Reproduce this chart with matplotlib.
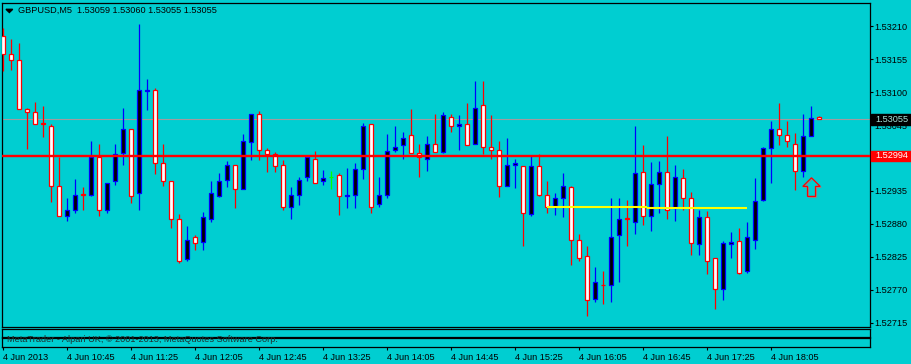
import matplotlib
matplotlib.use("Agg")
import matplotlib.pyplot as plt
from matplotlib.patches import Rectangle, Polygon

# GBPUSD M5, bars from 4 Jun 2013 10:05
opens = [1.53193, 1.53163, 1.53153, 1.53071, 1.53066, 1.53049, 1.53043, 1.52944, 1.52894, 1.52904,
         1.52930, 1.52929, 1.52992, 1.52904, 1.52951, 1.52998, 1.53038, 1.52931, 1.53102, 1.53104,
         1.52981, 1.52951, 1.52888, 1.52821, 1.52858, 1.52850, 1.52889, 1.52927, 1.52953, 1.52978,
         1.52938, 1.53016, 1.53063, 1.53003, 1.52996, 1.52978, 1.52908, 1.52928, 1.52958, 1.52988,
         1.52951, 1.52958, 1.52961, 1.52926, 1.52928, 1.52971, 1.53046, 1.52914, 1.52929, 1.53004,
         1.53011, 1.53029, 1.52998, 1.52989, 1.53013, 1.53000, 1.53059, 1.53043, 1.53046, 1.53014,
         1.53078, 1.53008, 1.53004, 1.52944, 1.52979, 1.52976, 1.52896, 1.52976, 1.52928, 1.52908,
         1.52924, 1.52941, 1.52854, 1.52826, 1.52755, 1.52779, 1.52778, 1.52861, 1.52890, 1.52883,
         1.52966, 1.52893, 1.52946, 1.52966, 1.52906, 1.52956, 1.52923, 1.52846, 1.52891, 1.52824,
         1.52771, 1.52846, 1.52851, 1.52801, 1.52854, 1.52920, 1.53006, 1.53038, 1.53028, 1.53014,
         1.52968, 1.53026, 1.53059]
highs = [1.53206, 1.53189, 1.53181, 1.53073, 1.53083, 1.53077, 1.53046, 1.52992, 1.52923, 1.52955,
         1.52942, 1.53018, 1.53014, 1.52949, 1.53014, 1.53073, 1.53038, 1.53213, 1.53122, 1.53106,
         1.53013, 1.52951, 1.52897, 1.52877, 1.52861, 1.52900, 1.52951, 1.52965, 1.52985, 1.52978,
         1.53030, 1.53063, 1.53068, 1.53007, 1.53000, 1.52986, 1.52942, 1.52958, 1.52992, 1.53001,
         1.52970, 1.52968, 1.52965, 1.52974, 1.52981, 1.53048, 1.53046, 1.52958, 1.53030, 1.53044,
         1.53033, 1.53071, 1.53013, 1.53026, 1.53063, 1.53066, 1.53063, 1.53061, 1.53081, 1.53118,
         1.53119, 1.53061, 1.53018, 1.53024, 1.52988, 1.52976, 1.52994, 1.52996, 1.52951, 1.52931,
         1.52965, 1.52944, 1.52864, 1.52843, 1.52808, 1.52801, 1.52923, 1.52923, 1.52920, 1.53043,
         1.53011, 1.52983, 1.52985, 1.53026, 1.52979, 1.52971, 1.52934, 1.52904, 1.52901, 1.52824,
         1.52851, 1.52866, 1.52873, 1.52884, 1.52956, 1.53009, 1.53051, 1.53081, 1.53051, 1.53031,
         1.53063, 1.53076, 1.53060]
lows = [1.53135, 1.53137, 1.53071, 1.53005, 1.53046, 1.53025, 1.52917, 1.52894, 1.52885, 1.52898,
        1.52903, 1.52927, 1.52894, 1.52898, 1.52945, 1.52979, 1.52915, 1.52904, 1.53070, 1.52964,
        1.52944, 1.52874, 1.52815, 1.52819, 1.52836, 1.52837, 1.52884, 1.52925, 1.52942, 1.52907,
        1.52938, 1.52986, 1.52986, 1.52967, 1.52967, 1.52904, 1.52889, 1.52912, 1.52952, 1.52949,
        1.52945, 1.52938, 1.52895, 1.52907, 1.52907, 1.52955, 1.52899, 1.52909, 1.52924, 1.53000,
        1.52989, 1.52998, 1.52959, 1.52969, 1.53000, 1.52998, 1.53033, 1.53004, 1.53011, 1.53014,
        1.52996, 1.52989, 1.52925, 1.52944, 1.52940, 1.52844, 1.52894, 1.52927, 1.52898, 1.52895,
        1.52891, 1.52812, 1.52819, 1.52726, 1.52750, 1.52746, 1.52750, 1.52783, 1.52844, 1.52864,
        1.52879, 1.52869, 1.52898, 1.52889, 1.52885, 1.52904, 1.52829, 1.52828, 1.52796, 1.52738,
        1.52753, 1.52823, 1.52796, 1.52798, 1.52839, 1.52918, 1.52948, 1.53011, 1.53009, 1.52936,
        1.52958, 1.53026, 1.53055]
closes = [1.53164, 1.53153, 1.53071, 1.53066, 1.53046, 1.53046, 1.52944, 1.52894, 1.52904, 1.52929,
          1.52928, 1.52992, 1.52903, 1.52949, 1.52996, 1.53038, 1.52926, 1.53103, 1.53104, 1.52981,
          1.52951, 1.52888, 1.52818, 1.52854, 1.52849, 1.52891, 1.52931, 1.52951, 1.52979, 1.52938,
          1.53019, 1.53063, 1.53004, 1.52996, 1.52976, 1.52908, 1.52928, 1.52954, 1.52991, 1.52949,
          1.52956, 1.52958, 1.52926, 1.52929, 1.52971, 1.53043, 1.52909, 1.52929, 1.53001, 1.53009,
          1.53024, 1.52998, 1.52991, 1.53014, 1.53000, 1.53061, 1.53043, 1.53046, 1.53011, 1.53074,
          1.53009, 1.53004, 1.52944, 1.52979, 1.52981, 1.52898, 1.52976, 1.52929, 1.52909, 1.52924,
          1.52943, 1.52854, 1.52824, 1.52753, 1.52783, 1.52778, 1.52859, 1.52888, 1.52888, 1.52965,
          1.52893, 1.52946, 1.52966, 1.52904, 1.52958, 1.52923, 1.52848, 1.52891, 1.52819, 1.52771,
          1.52848, 1.52850, 1.52798, 1.52858, 1.52918, 1.53006, 1.53038, 1.53028, 1.53019, 1.52968,
          1.53026, 1.53056, 1.53055]

price_ticks = [1.52715, 1.52770, 1.52825, 1.52880, 1.52935, 1.52990, 1.53045, 1.53100, 1.53155, 1.53210]
time_tick_bars = [0, 8, 16, 24, 32, 40, 48, 56, 64, 72, 80, 88, 96]
time_tick_labels = ["4 Jun 2013", "4 Jun 10:45", "4 Jun 11:25", "4 Jun 12:05", "4 Jun 12:45",
                    "4 Jun 13:25", "4 Jun 14:05", "4 Jun 14:45", "4 Jun 15:25", "4 Jun 16:05",
                    "4 Jun 16:45", "4 Jun 17:25", "4 Jun 18:05"]

hline_price = 1.52994
bid_price = 1.53055
yellow_x0 = [67.9, 80.5]
yellow_x1 = [80.5, 93.0]
yellow_p = [1.52909, 1.52907]
arrow_bar = 101
arrow_price = 1.52957

BG = "#00CED1"
W, H = 912, 364

plt.rcParams["font.family"] = ["Liberation Sans", "DejaVu Sans"]
plt.rcParams["font.size"] = 6.6


def fx(px):
    return px / W


def fy(py):
    return 1 - py / H


fig = plt.figure(figsize=(W / 100, H / 100), dpi=100, facecolor=BG)

# main chart window
ax = fig.add_axes([fx(2), fy(327.3), (870 - 2) / W, (327.3 - 2.5) / H])
ax.set_facecolor(BG)
ax.set_xlim(-0.1875, 108.3125)
ax.set_ylim(1.527078, 1.532492)
for s in ax.spines.values():
    s.set_linewidth(0.9)
    s.set_color("black")
ax.set_xticks([])
ax.yaxis.tick_right()
ax.set_yticks(price_ticks)
ax.set_yticklabels([f"{p:.5f}" for p in price_ticks])
ax.tick_params(axis="y", direction="out", length=1.8, width=0.8, pad=1.5, colors="black")

# candles
bw = 0.5
for i, (o, h, l, c) in enumerate(zip(opens, highs, lows, closes)):
    if c > o:
        edge, face = "#0000FF", "black"
    elif c < o:
        edge, face = "#FF0000", "white"
    else:
        edge, face = "#00FF00", None
    ax.vlines(i, l, h, color=edge, lw=0.9, zorder=3)
    if face is None:
        ax.hlines(o, i - bw / 2, i + bw / 2, color=edge, lw=0.9, zorder=4)
    else:
        lo, hi = min(o, c), max(o, c)
        ax.add_patch(Rectangle((i - bw / 2, lo), bw, hi - lo, facecolor=face,
                               edgecolor=edge, lw=0.9, zorder=4))

# horizontal lines
ax.axhline(bid_price, color="#a39a9e", lw=0.8, zorder=2)
ax.axhline(hline_price, color="#FF0000", lw=1.7, zorder=5)
for x0, x1, p in zip(yellow_x0, yellow_x1, yellow_p):
    ax.hlines(p, x0, x1, color="#FFFF00", lw=1.5, zorder=5)

# up arrow (pixel offsets from tip)
shape = [(0, 0), (8.7, 8.6), (4, 8.6), (4, 18.6), (-4, 18.6), (-4, 8.6), (-8.7, 8.6)]
shadow = [(arrow_bar + (dx + 1) / 8, arrow_price - (dy + 1) / 60000) for dx, dy in shape]
pts = [(arrow_bar + dx / 8, arrow_price - dy / 60000) for dx, dy in shape]
ax.add_patch(Polygon(shadow, closed=True, facecolor="none", edgecolor="#8a8a8a", lw=0.9, zorder=6))
ax.add_patch(Polygon(pts, closed=True, facecolor="none", edgecolor="#FF0000", lw=0.9, zorder=7))

# two empty sub-windows below
box1 = fig.add_axes([fx(2), fy(336.7), (870 - 2) / W, (336.7 - 329.3) / H])
box2 = fig.add_axes([fx(2), fy(346.7), (870 - 2) / W, (346.7 - 338.3) / H])
for b in (box1, box2):
    b.set_facecolor(BG)
    b.set_xlim(ax.get_xlim())
    b.set_yticks([])
    for s in b.spines.values():
        s.set_linewidth(0.9)
        s.set_color("black")
box1.set_xticks([])
box2.set_xticks(time_tick_bars)
box2.set_xticklabels(time_tick_labels)
box2.tick_params(axis="x", direction="out", length=2, width=0.8, pad=2.5, colors="black")
for lab in box2.get_xticklabels():
    lab.set_horizontalalignment("left")

fig.text(fx(7.3), fy(339), "MetaTrader - Alpari UK, \u00a9 2001-2013, MetaQuotes Software Corp.",
         color="#203030", va="center", ha="left")

# header
fig.patches.append(Polygon([(fx(6), fy(9.3)), (fx(12.7), fy(9.3)), (fx(9.35), fy(12.5))],
                           closed=True, transform=fig.transFigure, color="black"))
fig.text(fx(18), fy(10.5), "GBPUSD,M5  1.53059 1.53060 1.53055 1.53055",
         color="black", va="center", ha="left")

# price labels on right scale
fig.patches.append(Rectangle((fx(871), fy(124.7)), (912 - 871) / W, 10.7 / H,
                             transform=fig.transFigure, color="black", zorder=5))
fig.text(fx(875), fy(119.4), f"{bid_price:.5f}", color="#a8e6dc", va="center", ha="left", zorder=6)
fig.patches.append(Rectangle((fx(871), fy(161)), (912 - 871) / W, 10 / H,
                             transform=fig.transFigure, color="#FF0000", zorder=5))
fig.text(fx(875), fy(156), f"{hline_price:.5f}", color="white", va="center", ha="left", zorder=6)

fig.savefig("out.png", dpi=100, facecolor=BG)
